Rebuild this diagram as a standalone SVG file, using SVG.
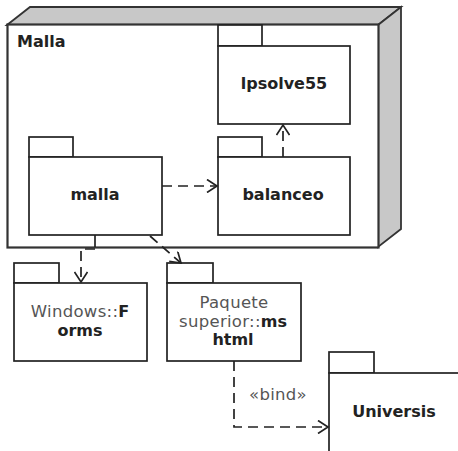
<svg xmlns="http://www.w3.org/2000/svg" width="458" height="451" viewBox="0 0 458 451">
<style>
.ln{fill:none;stroke:#222;stroke-width:1.7}
.pk{fill:#fff;stroke:#222;stroke-width:1.7}
.dash{fill:none;stroke:#222;stroke-width:1.7;stroke-dasharray:10,6}
.b{font-family:"DejaVu Sans",sans-serif;font-size:16px;font-weight:bold;fill:#222}
.r{font-family:"DejaVu Sans",sans-serif;font-size:16.5px;fill:#555;letter-spacing:0.3px}
</style>
<defs>
<marker id="ah" markerWidth="14" markerHeight="14" refX="11" refY="7" orient="auto" markerUnits="userSpaceOnUse">
<path d="M1,0.5 L11,7 L1,13.5" fill="none" stroke="#222" stroke-width="1.7"/>
</marker>
</defs>
<rect width="458" height="451" fill="#fff"/>
<g id="Malla">
<polygon points="7,25 30,7 401,7 378,25" fill="#c8c8c8" stroke="#333" stroke-width="1.8"/>
<polygon points="378,25 401,7 401,229 378,247" fill="#c8c8c8" stroke="#333" stroke-width="1.8"/>
<rect x="7.5" y="24.5" width="371" height="223" fill="#fff" stroke="#333" stroke-width="2.2"/>
<text class="b" x="17" y="47">Malla</text>
</g>
<g id="lpsolve55">
<rect class="pk" x="218" y="25" width="44" height="21"/>
<rect class="pk" x="218" y="46" width="132" height="78"/>
<text class="b" x="284" y="89" text-anchor="middle">lpsolve55</text>
</g>
<g id="malla">
<rect class="pk" x="29" y="137" width="44" height="20"/>
<rect class="pk" x="29" y="157" width="133" height="78"/>
<text class="b" x="95" y="200" text-anchor="middle">malla</text>
</g>
<g id="balanceo">
<rect class="pk" x="218" y="137" width="44" height="20"/>
<rect class="pk" x="218" y="157" width="132" height="78"/>
<text class="b" x="283" y="200" text-anchor="middle">balanceo</text>
</g>
<g id="WindowsForms">
<rect class="pk" x="14" y="263" width="45" height="20"/>
<rect class="pk" x="14" y="283" width="133" height="78"/>
<text x="80" y="317" text-anchor="middle"><tspan class="r">Windows::</tspan><tspan class="b">F</tspan></text>
<text class="b" x="80" y="336" text-anchor="middle">orms</text>
</g>
<g id="mshtml">
<rect class="pk" x="167" y="263" width="46" height="20"/>
<rect class="pk" x="167" y="283" width="134" height="78"/>
<text class="r" x="234" y="308" text-anchor="middle">Paquete</text>
<text x="233" y="327" text-anchor="middle"><tspan class="r">superior::</tspan><tspan class="b">ms</tspan></text>
<text class="b" x="233" y="345" text-anchor="middle">html</text>
</g>
<g id="Universis">
<rect class="pk" x="329" y="352" width="45" height="21"/>
<rect class="pk" x="329" y="373" width="140" height="90"/>
<text class="b" x="394" y="417" text-anchor="middle">Universis</text>
</g>
<g id="connectors">
<line class="dash" x1="162" y1="186" x2="217" y2="186" marker-end="url(#ah)"/>
<line class="dash" x1="283" y1="157" x2="283" y2="125" marker-end="url(#ah)"/>
<line class="ln" x1="95" y1="235" x2="95" y2="247"/>
<path class="dash" d="M95,249 H81 V282" marker-end="url(#ah)"/>
<path class="dash" d="M150,236 L181,263" marker-end="url(#ah)"/>
<path class="dash" d="M234,361 V427 H328" marker-end="url(#ah)"/>
<text class="r" x="278" y="400" text-anchor="middle">«bind»</text>
</g>
</svg>
